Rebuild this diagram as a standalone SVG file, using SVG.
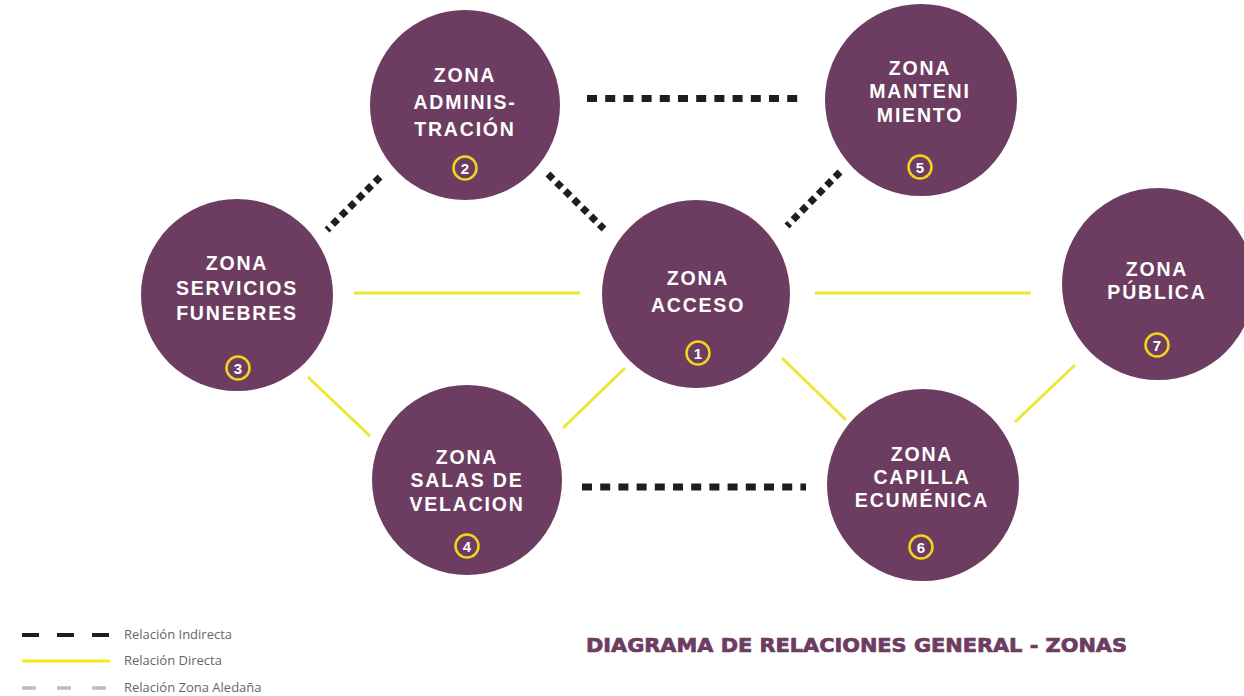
<svg xmlns="http://www.w3.org/2000/svg" width="1244" height="696" viewBox="0 0 1244 696">
<style>
.node{fill:#6d3c61}
.lbl{fill:#ffffff;font-family:"Liberation Sans",Arial,sans-serif;font-weight:bold;font-size:19.5px;text-anchor:middle;letter-spacing:1.8px}
.num{fill:none;stroke:#f2d51e;stroke-width:2.5}
.numt{fill:#ffffff;font-family:"Liberation Sans",Arial,sans-serif;font-weight:bold;font-size:15px;text-anchor:middle}
.ind{stroke:#1e1e1e;stroke-width:7;fill:none}
.indh{stroke-dasharray:10 8.2}
.indd{stroke-dasharray:7 5}
.dir{stroke:#ece636;stroke-width:3;fill:none}
.leg{fill:#666666;font-family:"Open Sans","DejaVu Sans",sans-serif;font-size:13px}
</style>
<rect width="1244" height="696" fill="#ffffff"/>
<g id="connectors">
<line class="ind indh" x1="587" y1="98.5" x2="800" y2="98.5"/>
<line class="ind indh" x1="582" y1="487" x2="806" y2="487"/>
<line class="ind indd" x1="380" y1="177" x2="327" y2="230"/>
<line class="ind indd" x1="548" y1="174" x2="604" y2="229"/>
<line class="ind indd" x1="840" y1="172" x2="787" y2="226"/>
<line class="dir" x1="354" y1="293" x2="580" y2="293"/>
<line class="dir" x1="815" y1="293" x2="1031" y2="293"/>
<line class="dir" x1="308" y1="377" x2="370" y2="436"/>
<line class="dir" x1="563" y1="428" x2="625" y2="368"/>
<line class="dir" x1="782" y1="358" x2="846" y2="420"/>
<line class="dir" x1="1015" y1="422" x2="1075" y2="365"/>
</g>
<g id="n1">
<circle class="node" cx="696" cy="294" r="94"/>
<text class="lbl" x="698" y="285">ZONA</text>
<text class="lbl" x="698" y="312">ACCESO</text>
<circle class="num" cx="698" cy="353" r="11.5"/>
<text class="numt" x="698" y="358.5">1</text>
</g>
<g id="n2">
<circle class="node" cx="465" cy="105" r="95"/>
<text class="lbl" x="465" y="82">ZONA</text>
<text class="lbl" x="465" y="109">ADMINIS-</text>
<text class="lbl" x="465" y="136">TRACIÓN</text>
<circle class="num" cx="465" cy="168" r="11.5"/>
<text class="numt" x="465" y="173.5">2</text>
</g>
<g id="n3">
<circle class="node" cx="237" cy="295" r="96"/>
<text class="lbl" x="237" y="270">ZONA</text>
<text class="lbl" x="237" y="295">SERVICIOS</text>
<text class="lbl" x="237" y="320">FUNEBRES</text>
<circle class="num" cx="238" cy="368" r="11.5"/>
<text class="numt" x="238" y="373.5">3</text>
</g>
<g id="n4">
<circle class="node" cx="467" cy="480" r="95"/>
<text class="lbl" x="467" y="464">ZONA</text>
<text class="lbl" x="467" y="487">SALAS DE</text>
<text class="lbl" x="467" y="511">VELACION</text>
<circle class="num" cx="467" cy="546" r="11.5"/>
<text class="numt" x="467" y="551.5">4</text>
</g>
<g id="n5">
<circle class="node" cx="921" cy="100" r="96"/>
<text class="lbl" x="920" y="75">ZONA</text>
<text class="lbl" x="920" y="98">MANTENI</text>
<text class="lbl" x="920" y="122">MIENTO</text>
<circle class="num" cx="920" cy="167" r="11.5"/>
<text class="numt" x="920" y="172.5">5</text>
</g>
<g id="n6">
<circle class="node" cx="923" cy="485" r="96"/>
<text class="lbl" x="922" y="461">ZONA</text>
<text class="lbl" x="922" y="484">CAPILLA</text>
<text class="lbl" x="922" y="507">ECUMÉNICA</text>
<circle class="num" cx="921" cy="547" r="11.5"/>
<text class="numt" x="921" y="552.5">6</text>
</g>
<g id="n7">
<circle class="node" cx="1158" cy="284" r="96"/>
<text class="lbl" x="1157" y="276">ZONA</text>
<text class="lbl" x="1157" y="299">PÚBLICA</text>
<circle class="num" cx="1157" cy="345" r="11.5"/>
<text class="numt" x="1157" y="350.5">7</text>
</g>
<g id="legend">
<line x1="22" y1="635" x2="110" y2="635" stroke="#1e1e1e" stroke-width="4" stroke-dasharray="17 18"/>
<text class="leg" x="124" y="639">Relación Indirecta</text>
<line x1="22" y1="661" x2="110" y2="661" stroke="#f5e91c" stroke-width="3"/>
<text class="leg" x="124" y="665">Relación Directa</text>
<line x1="22" y1="688" x2="110" y2="688" stroke="#bdbdbd" stroke-width="3.5" stroke-dasharray="14 21"/>
<text class="leg" x="124" y="692">Relación Zona Aledaña</text>
</g>
<text id="title" x="586" y="652" fill="#6d3c61" stroke="#6d3c61" stroke-width="0.7" font-family="'DejaVu Sans','Open Sans',sans-serif" font-weight="bold" font-size="19" textLength="541" lengthAdjust="spacingAndGlyphs">DIAGRAMA DE RELACIONES GENERAL - ZONAS</text>
</svg>
